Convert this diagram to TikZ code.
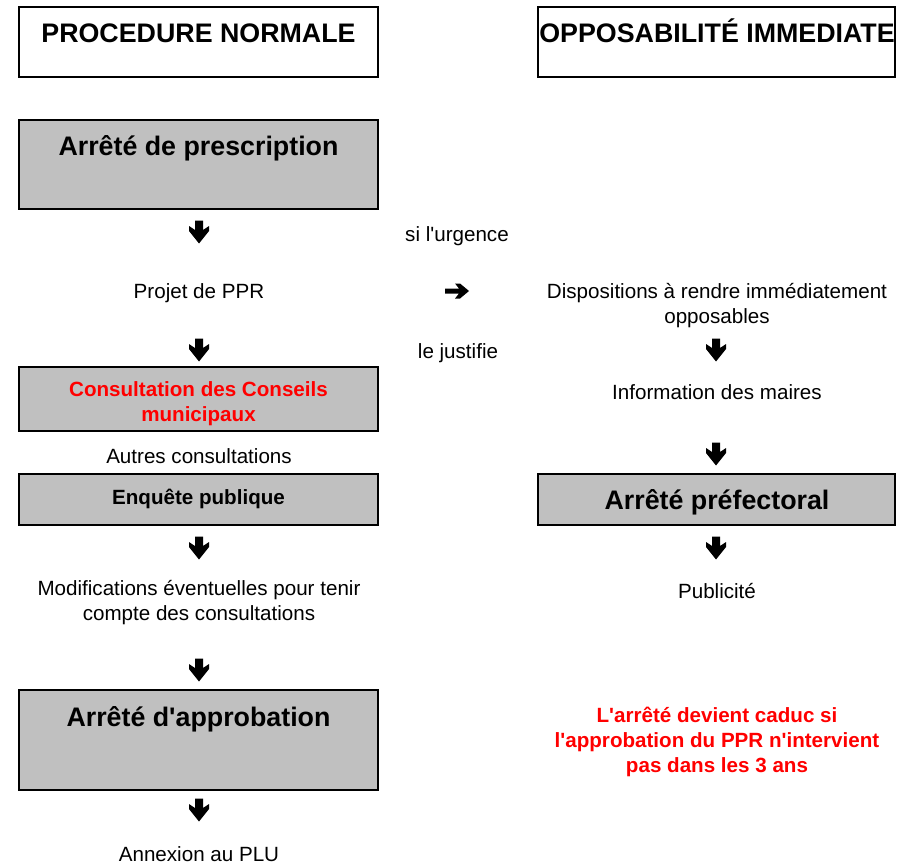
\documentclass[tikz,border=0pt]{standalone}
\usepackage{fontspec}
\setmainfont{Liberation Sans}
\usepackage{tikz}

\definecolor{boxgray}{HTML}{C0C0C0}

\begin{document}
\begin{tikzpicture}[x=1pt, y=-1pt,
  box/.style={draw=black, line width=1.8pt, minimum width=359pt, inner sep=0pt},
  graybox/.style={box, fill=boxgray},
  txt/.style={font=\fontsize{20.6}{25}\selectfont, align=center, inner sep=0pt, yshift=-2pt},
  boldtxt/.style={txt, font=\fontsize{20.6}{25}\selectfont\bfseries},
  redtxt/.style={boldtxt, text=red},
  bigtxt/.style={font=\fontsize{26.8}{30}\selectfont\bfseries, inner sep=0pt,
    text height=19.5pt, text depth=0pt, yshift=0.5pt}]
\useasboundingbox (0,0) rectangle (897,864);
% Headers
\node[box, minimum height=70pt] (procnorm) at (198.5,42) {};
\node[bigtxt] (procnormtxt) at (198.5,33) {PROCEDURE NORMALE};
\node[box, minimum width=357pt, minimum height=70pt] (opposab) at (716.5,42) {};
\node[bigtxt] (opposabtxt) at (717,33) {OPPOSABILITÉ IMMEDIATE};
% Left column: procedure normale
\node[graybox, minimum height=89pt] (prescr) at (198.5,164.5) {};
\node[bigtxt] (prescrtxt) at (198.5,146) {Arrêté de prescription};
\node[txt] (projet) at (199,291) {Projet de PPR};
\node[graybox, minimum height=64pt] (consult) at (198.5,399) {};
\node[redtxt] (consulttxt) at (198.5,402) {Consultation des Conseils\\municipaux};
\node[txt] (autres) at (199,454) {Autres consultations};
\node[graybox, minimum height=51pt] (enquete) at (198.5,499.5) {};
\node[boldtxt] (enquetetxt) at (198.5,497) {Enquête publique};
\node[txt] (modif) at (199,601) {Modifications éventuelles pour tenir\\compte des consultations};
\node[graybox, minimum height=100pt] (approb) at (198.5,740) {};
\node[bigtxt] (approbtxt) at (198.5,717) {Arrêté d\textquotesingle approbation};
\node[txt] (annexion) at (199,852) {Annexion au PLU};
% Middle: urgence
\node[txt] (urgence) at (457,234) {si l\textquotesingle urgence};
\coordinate (versdroite) at (457,291);
\fill[shift={(versdroite)}] (-12,-2.5) -- (2,-2.5) -- (-2,-7.5) -- (3,-7.5) -- (12,0)
  -- (3,7.5) -- (-2,7.5) -- (2,2.5) -- (-12,2.5) -- cycle;
\node[txt] (justifie) at (458,351) {le justifie};
% Right column: opposabilite immediate
\node[txt] (dispo) at (717,303.5) {Dispositions à rendre immédiatement\\opposables};
\node[txt] (info) at (717,390) {Information des maires};
\node[graybox, minimum width=357pt, minimum height=51pt] (prefect) at (716.5,499.5) {};
\node[bigtxt] (prefecttxt) at (717,500) {Arrêté préfectoral};
\node[txt] (pub) at (717,589) {Publicité};
\node[redtxt] (caduc) at (717,740) {L\textquotesingle arrêté devient caduc si\\l\textquotesingle approbation du PPR n\textquotesingle intervient\\pas dans les 3 ans};
% Down arrows
\foreach \x/\y/\n in {199/232/a1, 199/350/a2, 199/548/a3, 199/670/a4, 199/810/a5,
                      716/350/b1, 716/454/b2, 716/548/b3} {
  \coordinate (\n) at (\x,\y);
  \fill[shift={(\n)}] (-4,-11.5) -- (-4,-2) -- (-10,-6) -- (-10,-1) -- (0,11.5)
    -- (10,-1) -- (10,-6) -- (4,-2) -- (4,-11.5) -- cycle;
}
\end{tikzpicture}
\end{document}
